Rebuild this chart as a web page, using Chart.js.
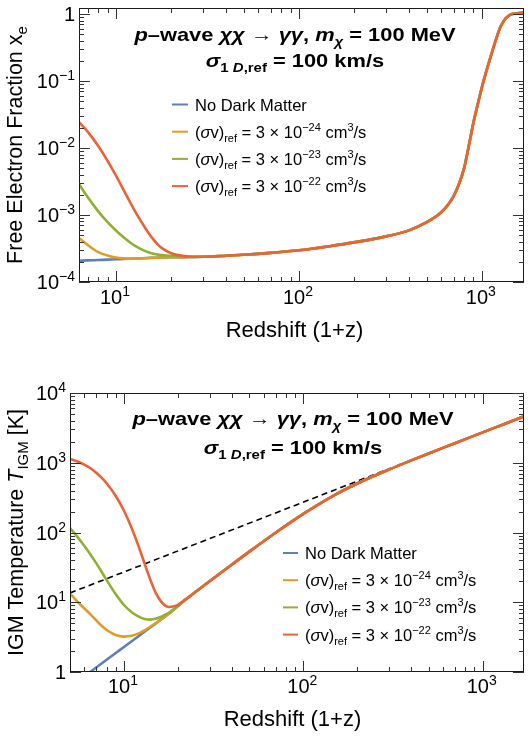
<!DOCTYPE html>
<html><head><meta charset="utf-8">
<script src="https://cdn.jsdelivr.net/npm/chart.js@4.4.0/dist/chart.umd.min.js"></script>
<style>
html,body{margin:0;padding:0;background:#fff;}
#wrap{position:relative;width:531px;height:737px;overflow:hidden;background:#fff;}
.panel{position:absolute;left:0;width:531px;}
canvas{display:block;}
</style></head><body>
<div id="wrap">
<div class="panel" style="top:0;height:370px"><canvas id="c1" width="531" height="370"></canvas></div>
<div class="panel" style="top:370px;height:367px"><canvas id="c2" width="531" height="367"></canvas></div>
</div>
<script>
// ---------- DATA: top panel (free electron fraction) ----------
const xeLowZ   = [6.28, 7, 8, 9, 10, 11, 12, 13, 14, 15, 16, 17, 18, 20, 22, 25];
const xeNoDM   = [2.08e-4, 2.10e-4, 2.13e-4, 2.155e-4, 2.18e-4, 2.20e-4, 2.22e-4, 2.24e-4, 2.26e-4, 2.28e-4, 2.30e-4, 2.31e-4, 2.32e-4, 2.34e-4, 2.35e-4, 2.36e-4];
const xeSv24   = [4.54e-4, 3.57e-4, 2.80e-4, 2.49e-4, 2.32e-4, 2.25e-4, 2.235e-4, 2.24e-4, 2.26e-4, 2.28e-4, 2.30e-4, 2.31e-4, 2.32e-4, 2.34e-4, 2.35e-4, 2.36e-4];
const xeSv23   = [2.90e-3, 1.853e-3, 1.132e-3, 7.83e-4, 5.87e-4, 4.65e-4, 3.86e-4, 3.34e-4, 3.01e-4, 2.79e-4, 2.65e-4, 2.56e-4, 2.52e-4, 2.44e-4, 2.39e-4, 2.36e-4];
const xeSv22   = [2.44e-2, 1.757e-2, 1.075e-2, 6.44e-3, 3.86e-3, 2.37e-3, 1.516e-3, 1.021e-3, 7.34e-4, 5.48e-4, 4.32e-4, 3.59e-4, 3.15e-4, 2.69e-4, 2.52e-4, 2.40e-4];
const xeHighZ  = [30, 40, 50, 70, 100, 150, 200, 300, 400, 500, 600, 650, 700, 750, 800, 850, 900, 950, 1000, 1050, 1100, 1150, 1200, 1250, 1300, 1350, 1400, 1450, 1500, 1600, 1700];
const xeShared = [2.38e-4, 2.47e-4, 2.55e-4, 2.72e-4, 2.97e-4, 3.45e-4, 3.9e-4, 4.8e-4, 5.9e-4, 7.8e-4, 1.1e-3, 1.4e-3, 1.9e-3, 2.9e-3, 5.0e-3, 1.1e-2, 2.4e-2, 4.5e-2, 8.0e-2, 0.13, 0.2, 0.3, 0.43, 0.6, 0.74, 0.86, 0.94, 0.99, 1.01, 1.03, 1.05];

// ---------- DATA: bottom panel (IGM temperature, K) ----------
const tLowZ   = [5, 5.5, 6, 6.5, 7, 7.5, 8, 9, 10, 11, 12, 13, 14, 15, 16, 17, 18, 19, 20, 22, 25];
const tNoDM   = [0.613, 0.735, 0.866, 1.009, 1.161, 1.324, 1.497, 1.871, 2.286, 2.74, 3.23, 3.77, 4.34, 4.94, 5.59, 6.27, 7.02, 7.9, 8.85, 10.85, 14.0];
const tSv24   = [13.4, 10.2, 8.2, 6.7, 5.5, 4.6, 4.0, 3.4, 3.22, 3.3, 3.55, 3.95, 4.45, 5.0, 5.62, 6.29, 7.02, 7.9, 8.85, 10.85, 14.0];
const tSv23   = [116, 86.5, 64.7, 48.5, 36.4, 27.4, 20.8, 13.0, 9.13, 7.25, 6.27, 5.77, 5.64, 5.79, 6.14, 6.65, 7.25, 7.98, 8.85, 10.85, 14.0];
const tSv22   = [1132, 1042, 941, 833, 720, 612, 509, 334, 205, 118, 66, 36.4, 21.3, 13.8, 10.46, 8.95, 8.55, 8.75, 9.19, 11.0, 14.0];
const tHighZ  = [30, 40, 50, 70, 100, 150, 200, 300, 400, 500, 700, 1000, 1300, 1700];
const tShared = [20, 34.8, 53.2, 99.2, 185, 347, 504, 797, 1081, 1360, 1904, 2725, 3542, 4632];
const tCmbZ   = [5, 1700];
const tCmbK   = [13.6, 4632];

// ---------- labels ----------
const legendLabels = ['No Dark Matter', '(σv)ref = 3 × 10−24 cm3/s', '(σv)ref = 3 × 10−23 cm3/s', '(σv)ref = 3 × 10−22 cm3/s'];
const svExponents = ['−24', '−23', '−22'];
const xTitle = 'Redshift (1+z)';
const yTitleTop = ['Free Electron Fraction x', 'e'];
const yTitleBottom = ['IGM Temperature ', 'T', 'IGM', ' [K]'];
const xDecades = [1, 2, 3];
const yDecadesTop = [-4, -3, -2, -1, 0];
const yDecadesBottom = [0, 1, 2, 3, 4];
const colors = ['#5E81B5', '#E19C24', '#8FB032', '#EB6235'];

// ---------- helpers ----------
const FAM = '"Liberation Sans", Arial, Helvetica, sans-serif';
function fnt(s){ return (s.it ? 'italic ' : '') + (s.b ? 'bold ' : '') + s.size + 'px ' + FAM; }
function seg(t, size, o){ return Object.assign({t: t, size: size}, o || {}); }
function richWidth(ctx, segs){ let w = 0; for (const s of segs){ ctx.font = fnt(s); w += ctx.measureText(s.t).width; } return w; }
function drawRich(ctx, segs, x, y, align, sx){
  sx = sx || 1;
  const w = richWidth(ctx, segs) * sx;
  const x0 = align === 'center' ? x - w / 2 : (align === 'right' ? x - w : x);
  ctx.save();
  ctx.translate(x0, y); ctx.scale(sx, 1);
  ctx.textAlign = 'left'; ctx.textBaseline = 'alphabetic';
  let cx = 0;
  for (const s of segs){ ctx.font = fnt(s); ctx.fillText(s.t, cx, (s.dy || 0)); cx += ctx.measureText(s.t).width; }
  ctx.restore();
}
function zip(xs, ys){ return xs.map((x, i) => ({x: x, y: ys[i]})); }
function powLabel(n){
  if (n === 0) return [seg('1', 20)];
  return [seg('10', 20), seg((n < 0 ? '−' : '') + Math.abs(n), 14, {dy: -8})];
}
function svSegs(exp, size){
  const sm = Math.round(size * 0.68);
  return [seg('(', size), seg('σ', size, {it: true}), seg('v)', size), seg('ref', sm, {dy: 4}),
          seg(' = 3 × 10', size), seg(exp, sm, {dy: -7}), seg(' cm', size), seg('3', sm, {dy: -7}), seg('/s', size)];
}

function makePanel(canvas, cfg){
  const W = canvas.width, H = canvas.height;
  const deco = {
    id: 'deco_' + canvas.id,
    afterDatasetsDraw(chart){
      const ctx = chart.ctx, a = chart.chartArea, xs = chart.scales.x, ys = chart.scales.y;
      ctx.save();
      ctx.fillStyle = '#000';
      // frame
      ctx.strokeStyle = '#1a1a1a'; ctx.lineWidth = 1;
      ctx.strokeRect(Math.round(a.left) + 0.5, Math.round(a.top) + 0.5, Math.round(a.right - a.left) - 1, Math.round(a.bottom - a.top) - 1);
      // ticks (inward, all four sides)
      ctx.strokeStyle = '#333';
      ctx.beginPath();
      const xmin = xs.min, xmax = xs.max, ymin = ys.min, ymax = ys.max;
      for (let d = Math.floor(Math.log10(xmin)); d <= Math.ceil(Math.log10(xmax)); d++){
        for (let k = 1; k <= 9; k++){
          const v = k * Math.pow(10, d);
          if (v < xmin * 1.0001 || v > xmax * 0.9999) continue;
          const p = Math.round(xs.getPixelForValue(v)) + 0.5, L = k === 1 ? 11 : 5;
          ctx.moveTo(p, a.bottom); ctx.lineTo(p, a.bottom - L);
          ctx.moveTo(p, a.top); ctx.lineTo(p, a.top + L);
        }
      }
      for (let d = Math.floor(Math.log10(ymin)); d <= Math.ceil(Math.log10(ymax)); d++){
        for (let k = 1; k <= 9; k++){
          const v = k * Math.pow(10, d);
          if (v < ymin * 0.9999 || v > ymax * 1.0001) continue;
          const p = Math.round(ys.getPixelForValue(v)) + 0.5, L = k === 1 ? 11 : 5;
          ctx.moveTo(a.left, p); ctx.lineTo(a.left + L, p);
          ctx.moveTo(a.right, p); ctx.lineTo(a.right - L, p);
        }
      }
      ctx.stroke();
      // tick labels
      for (const n of xDecades){
        const p = xs.getPixelForValue(Math.pow(10, n));
        drawRich(ctx, powLabel(n), p - 1, a.bottom + cfg.xLabelGap, 'center');
      }
      for (const n of cfg.yDecades){
        const p = ys.getPixelForValue(Math.pow(10, n));
        drawRich(ctx, powLabel(n), a.left - 4, p + 7, 'right');
      }
      // axis titles
      drawRich(ctx, [seg(xTitle, 22)], cfg.xTitleX, cfg.xTitleY, 'center');
      ctx.save();
      ctx.translate(cfg.yTitleX, (a.top + a.bottom) / 2);
      ctx.rotate(-Math.PI / 2);
      drawRich(ctx, cfg.yTitleSegs, 0, 0, 'center');
      ctx.restore();
      // annotation
      const AS = 1.15;
      drawRich(ctx, [seg('p', 19, {it: true, b: true}), seg('–wave ', 19, {b: true}), seg('χχ', 19, {it: true, b: true}),
                     seg(' → ', 19, {b: true}), seg('γγ', 19, {it: true, b: true}), seg(', ', 19, {b: true}),
                     seg('m', 19, {it: true, b: true}), seg('χ', 13, {it: true, b: true, dy: 5}), seg(' = 100 MeV', 19, {b: true})],
               cfg.annX, cfg.annY1, 'center', AS);
      drawRich(ctx, [seg('σ', 19, {it: true, b: true}), seg('1 ', 13, {b: true, dy: 5}), seg('D', 13, {it: true, b: true, dy: 5}),
                     seg(',ref', 13, {b: true, dy: 5}), seg(' = 100 km/s', 19, {b: true})],
               cfg.annX, cfg.annY2, 'center', AS);
      // legend
      const lg = cfg.legend;
      for (let i = 0; i < 4; i++){
        const y = lg.y0 + i * lg.dy;
        ctx.strokeStyle = colors[i]; ctx.lineWidth = 2;
        ctx.beginPath(); ctx.moveTo(lg.x0, y); ctx.lineTo(lg.x1, y); ctx.stroke();
        const segs = i === 0 ? [seg(legendLabels[0], 16.5)] : svSegs(svExponents[i - 1], 16.5);
        drawRich(ctx, segs, lg.tx, y + 6, 'left');
      }
      ctx.restore();
    }
  };
  return new Chart(canvas, {
    type: 'line',
    data: { datasets: cfg.datasets },
    options: {
      responsive: false, maintainAspectRatio: false, animation: false,
      layout: { padding: { left: 0, top: cfg.area.top, right: W - cfg.area.right, bottom: 0 } },
      plugins: { legend: { display: false }, tooltip: { enabled: false }, title: { display: false } },
      elements: { point: { radius: 0 }, line: { borderWidth: 2.6, cubicInterpolationMode: 'monotone' } },
      scales: {
        x: { type: 'logarithmic', min: cfg.xRange[0], max: cfg.xRange[1], bounds: 'data',
             grid: { display: false }, border: { display: false }, ticks: { display: false },
             afterFit: s => { s.height = H - cfg.area.bottom; } },
        y: { type: 'logarithmic', min: cfg.yRange[0], max: cfg.yRange[1], bounds: 'data',
             grid: { display: false }, border: { display: false }, ticks: { display: false },
             afterFit: s => { s.width = cfg.area.left; } }
      }
    },
    plugins: [deco]
  });
}

function ds(label, pts, color, order, extra){
  return Object.assign({ label: label, data: pts, borderColor: color, backgroundColor: color, fill: false, order: order, borderWidth: 2.6 }, extra || {});
}

// top panel
makePanel(document.getElementById('c1'), {
  area: { left: 79, right: 524, top: 8, bottom: 282 },
  xRange: [6.28, 1700], yRange: [1e-4, 1.23],
  yDecades: yDecadesTop, xLabelGap: 22, xTitleX: 294.5, xTitleY: 337, yTitleX: 22,
  yTitleSegs: [seg(yTitleTop[0], 21.5), seg(yTitleTop[1], 15, {dy: 5})],
  annX: 295, annY1: 41, annY2: 67,
  legend: { x0: 172, x1: 188, tx: 195, y0: 104.5, dy: 27.2 },
  datasets: [
    ds(legendLabels[0], zip(xeLowZ.concat(xeHighZ), xeNoDM.concat(xeShared)), colors[0], 4),
    ds(legendLabels[1], zip(xeLowZ.concat(xeHighZ), xeSv24.concat(xeShared)), colors[1], 3),
    ds(legendLabels[2], zip(xeLowZ.concat(xeHighZ), xeSv23.concat(xeShared)), colors[2], 2),
    ds(legendLabels[3], zip(xeLowZ.concat(xeHighZ), xeSv22.concat(xeShared)), colors[3], 1)
  ]
});

// bottom panel
makePanel(document.getElementById('c2'), {
  area: { left: 70, right: 524, top: 23, bottom: 302 },
  xRange: [5, 1700], yRange: [1, 1e4],
  yDecades: yDecadesBottom, xLabelGap: 21, xTitleX: 292.5, xTitleY: 356, yTitleX: 23,
  yTitleSegs: [seg(yTitleBottom[0], 21.5), seg(yTitleBottom[1], 21.5, {it: true}), seg(yTitleBottom[2], 15, {dy: 5}), seg(yTitleBottom[3], 21.5)],
  annX: 293, annY1: 55, annY2: 84,
  legend: { x0: 283, x1: 298, tx: 305, y0: 183, dy: 27.2 },
  datasets: [
    ds('T_CMB', zip(tCmbZ, tCmbK), '#000', 5, { borderWidth: 1.6, borderDash: [6, 4], cubicInterpolationMode: 'default', tension: 0 }),
    ds(legendLabels[0], zip(tLowZ.concat(tHighZ), tNoDM.concat(tShared)), colors[0], 4),
    ds(legendLabels[1], zip(tLowZ.concat(tHighZ), tSv24.concat(tShared)), colors[1], 3),
    ds(legendLabels[2], zip(tLowZ.concat(tHighZ), tSv23.concat(tShared)), colors[2], 2),
    ds(legendLabels[3], zip(tLowZ.concat(tHighZ), tSv22.concat(tShared)), colors[3], 1)
  ]
});
</script>
</body></html>
